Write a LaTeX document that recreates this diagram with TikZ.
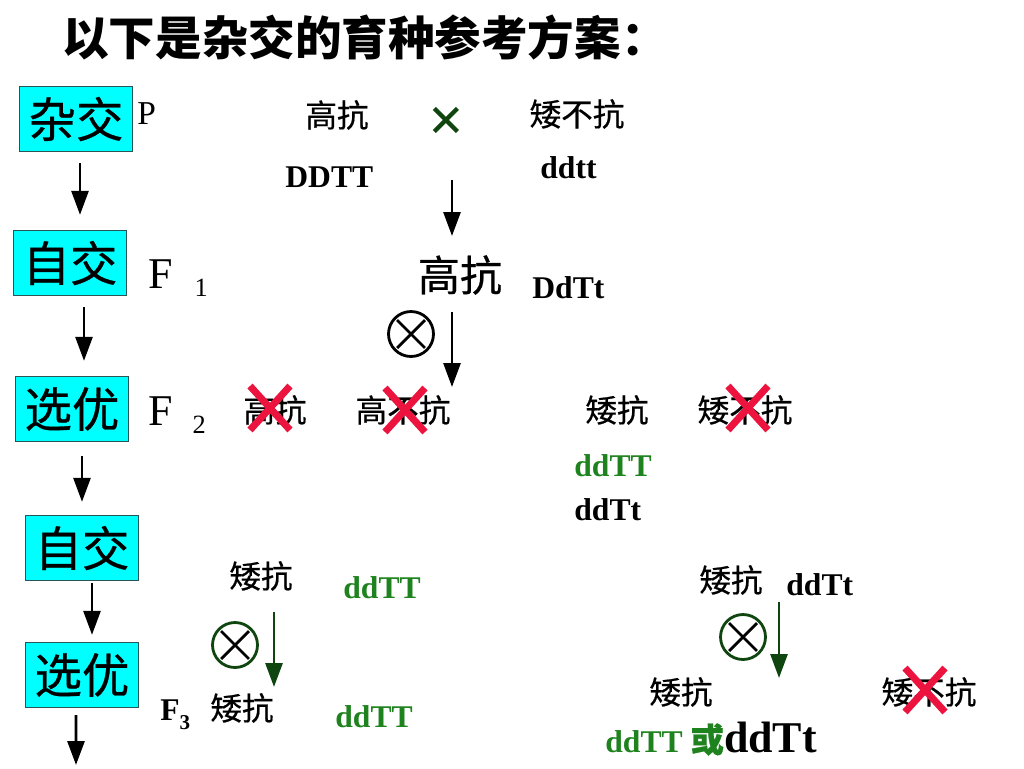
\documentclass[tikz,border=0pt]{standalone}
\usepackage{fontspec}
\setmainfont{Liberation Serif}
\newfontfamily\cjk{Noto Sans CJK SC}
\newfontfamily\cjkm[FakeBold=0.6]{Noto Sans CJK SC}
\usetikzlibrary{arrows.meta,shapes.misc}
\definecolor{boxcyan}{RGB}{0,255,255}
\definecolor{boxline}{RGB}{40,85,85}
\definecolor{crossred}{RGB}{236,20,62}
\definecolor{gtext}{RGB}{30,130,30}
\definecolor{darkg}{RGB}{15,70,15}
\tikzset{
  stage/.style={draw=boxline, fill=boxcyan, line width=0.8pt, minimum width=2.26cm,
    minimum height=1.3cm, inner sep=0pt, font=\cjkm\fontsize{27}{32}\selectfont},
  trait/.style={inner sep=0pt, font=\cjkm\fontsize{18}{22}\selectfont},
  gene/.style={inner sep=0pt, anchor=base west, font=\bfseries\fontsize{18}{22}\selectfont},
  ggene/.style={gene, text=gtext},
  gen/.style={inner sep=0pt, anchor=base west, font=\fontsize{25}{30}\selectfont},
  nope/.style={cross out, draw=crossred, line width=4pt, minimum width=0.66cm,
    minimum height=0.74cm, inner sep=0pt},
  selfring/.style={circle, draw, line width=1.6pt, minimum size=0.9cm, inner sep=0pt},
  selfmark/.style={cross out, draw, line width=1.6pt, minimum size=0.5cm, inner sep=0pt},
  darr/.style={-{Triangle[length=0.48cm,width=0.34cm]}, line width=1.6pt}
}
\begin{document}
\begin{tikzpicture}[x=0.02cm, y=-0.02cm]
  \useasboundingbox (0,0) rectangle (1024,768);
  % Title
  \node[anchor=west, inner sep=0pt, font=\cjk\bfseries\fontsize{26.5}{30}\selectfont] (title) at (62,38) {以下是杂交的育种参考方案：};
  % Steps on the left
  \node[stage] (s1) at (76,119) {杂交};
  \node[stage] (s2) at (70,263) {自交};
  \node[stage] (s3) at (72,409) {选优};
  \node[stage] (s4) at (82,548) {自交};
  \node[stage] (s5) at (82,675) {选优};
  \coordinate (send) at (76,765);
  \draw[darr, shorten <=0.22cm, shorten >=0.3cm] ([xshift=0.08cm]s1.south) -- ([xshift=0.08cm]s1.south |- s2.north);
  \draw[darr, shorten <=0.22cm, shorten >=0.3cm] ([xshift=0.28cm]s2.south) -- ([xshift=0.28cm]s2.south |- s3.north);
  \draw[darr, shorten <=0.28cm, shorten >=0.26cm] ([xshift=0.2cm]s3.south) -- ([xshift=0.2cm]s3.south |- s4.north);
  \draw[darr, shorten <=0.04cm, shorten >=0.14cm] ([xshift=0.2cm]s4.south) -- ([xshift=0.2cm]s4.south |- s5.north);
  \draw[darr, shorten <=0.14cm] ([xshift=-0.12cm]s5.south) -- (send);
  % Generations
  \node[inner sep=0pt, anchor=base west, font=\fontsize{19}{22}\selectfont] (gP) at (137,124) {P};
  \node[gen] (gF1) at (148,288) {F\hspace{0.5em}\raisebox{-0.2em}{\fontsize{15}{18}\selectfont 1}};
  \node[gen] (gF2) at (148,425) {F\hspace{0.45em}\raisebox{-0.2em}{\fontsize{15}{18}\selectfont 2}};
  % Parents
  \node[trait] (p1) at (337,115) {高抗};
  \node[inner sep=0pt, text=darkg, font=\bfseries\fontsize{36}{40}\selectfont] (cross) at (447,124) {×};
  \node[trait] (p2) at (577,114) {矮不抗};
  \node[gene] (p1g) at (285,187) {DDTT};
  \node[gene] (p2g) at (540,178) {ddtt};
  \coordinate (a1s) at (452,180);
  \coordinate (a1e) at (452,236);
  \draw[darr] (a1s) -- (a1e);
  % F1
  \node[inner sep=0pt, font=\cjkm\fontsize{24}{28}\selectfont] (f1) at (460,275) {高抗};
  \node[gene] (f1g) at (532,298) {DdTt};
  \node[selfring] (o1) at (411,334) {};
  \node[selfmark] (o1x) at (o1) {};
  \coordinate (a2s) at (452,312);
  \coordinate (a2e) at (452,387);
  \draw[darr] (a2s) -- (a2e);
  % F2
  \node[trait] (f2a) at (275,410) {高抗};
  \node[trait] (f2b) at (403,410) {高不抗};
  \node[trait] (f2c) at (617,410) {矮抗};
  \node[trait] (f2d) at (745,410) {矮不抗};
  \node[nope] (x1) at (270,408) {};
  \node[nope] (x2) at (405,410) {};
  \node[nope] (x3) at (748,408) {};
  \node[ggene] (f2g1) at (574,476) {ddTT};
  \node[gene] (f2g2) at (574,520) {ddTt};
  % Left branch
  \node[trait] (l1) at (261,576) {矮抗};
  \node[ggene] (l1g) at (343,598) {ddTT};
  \node[selfring, draw=darkg] (o2) at (235,645) {};
  \node[selfmark] (o2x) at (o2) {};
  \coordinate (a3s) at (274,612);
  \coordinate (a3e) at (274,687);
  \draw[darr, draw=darkg, fill=darkg] (a3s) -- (a3e);
  \node[inner sep=0pt, anchor=base west, font=\bfseries\fontsize{18}{22}\selectfont] (gF3) at (160,720) {F\raisebox{-0.3em}{\fontsize{12}{14}\selectfont 3}};
  \node[trait] (l2) at (242,708) {矮抗};
  \node[ggene] (l2g) at (335,727) {ddTT};
  % Right branch
  \node[trait] (r1) at (731,580) {矮抗};
  \node[gene] (r1g) at (786,595) {ddTt};
  \node[selfring, draw=darkg] (o3) at (743,637) {};
  \node[selfmark] (o3x) at (o3) {};
  \coordinate (a4s) at (779,602);
  \coordinate (a4e) at (779,678);
  \draw[darr, draw=darkg, fill=darkg] (a4s) -- (a4e);
  \node[trait] (r2) at (681,692) {矮抗};
  \node[trait] (r3) at (929,692) {矮不抗};
  \node[nope] (x4) at (925,690) {};
  \node[ggene] (r2g) at (605,752) {ddTT {\cjkm\fontsize{19}{22}\selectfont 或}\textcolor{black}{\fontsize{25}{30}\selectfont ddTt}};
\end{tikzpicture}
\end{document}
